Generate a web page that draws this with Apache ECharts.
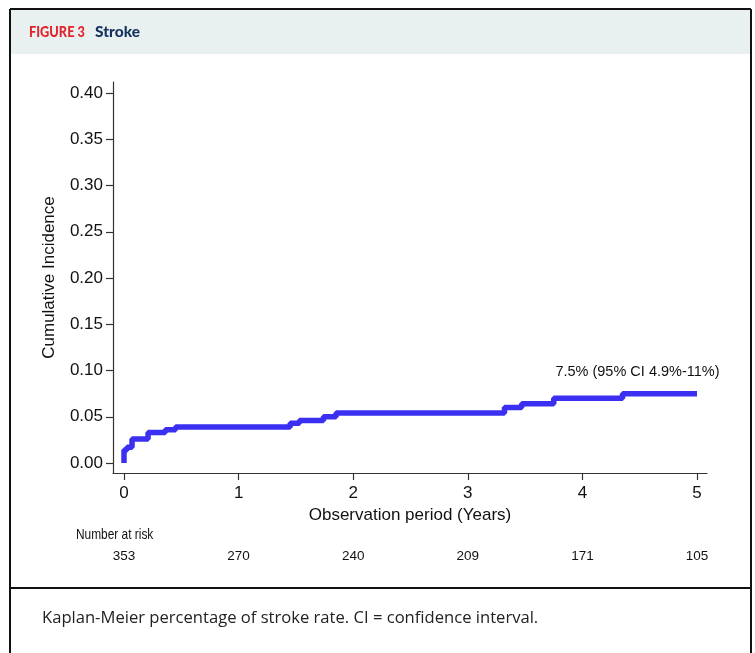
<!DOCTYPE html>
<html>
<head>
<meta charset="utf-8">
<script src="https://cdn.jsdelivr.net/npm/echarts@6/dist/echarts.min.js"></script>
<style>
  html, body { margin: 0; padding: 0; background: #fff; }
  #chart { width: 755px; height: 653px; }
</style>
</head>
<body>
<div id="chart"></div>
<script>
// Kaplan-Meier cumulative incidence (years, value after the step)
var years = [0, 0, 0.026, 0.07, 0.21, 0.36, 0.45, 1.45, 1.53, 1.74, 1.85, 3.32, 3.47, 3.75, 4.35, 5.0];
var incidence = [0, 0.014, 0.017, 0.026, 0.033, 0.036, 0.039, 0.043, 0.046, 0.050, 0.054, 0.060, 0.064, 0.070, 0.075, 0.075];

var yTicks = [0, 0.05, 0.10, 0.15, 0.20, 0.25, 0.30, 0.35, 0.40];
var xTicks = [0, 1, 2, 3, 4, 5];
var atRisk = [353, 270, 240, 209, 171, 105];
var endLabel = "7.5% (95% CI 4.9%-11%)";

var stepData = years.map(function (t, i) { return [t, incidence[i]]; });

var chart = echarts.init(document.getElementById("chart"));
var font = "Liberation Sans, Arial, sans-serif";

var option = {
  animation: false,
  backgroundColor: "#fff",
  grid: { left: 113, right: 48, top: 82, bottom: 180 },
  xAxis: [
    {
      type: "value",
      min: -0.096,
      max: 5.087,
      name: "Observation period (Years)",
      nameLocation: "middle",
      nameGap: 34,
      nameTextStyle: { fontFamily: font, fontSize: 17, color: "#111" },
      axisLine: { show: true, onZero: false, lineStyle: { color: "#333", width: 1.2 } },
      axisTick: { show: true, length: 7, customValues: xTicks, lineStyle: { color: "#333", width: 1.2 } },
      axisLabel: { customValues: xTicks, fontFamily: font, fontSize: 17, color: "#111", margin: 12 },
      splitLine: { show: false }
    },
    {
      type: "value",
      min: -0.096,
      max: 5.087,
      position: "bottom",
      offset: 68,
      axisLine: { show: false },
      axisTick: { show: false },
      axisLabel: {
        customValues: xTicks,
        fontFamily: font,
        fontSize: 13.5,
        color: "#111",
        formatter: function (v) { return atRisk[xTicks.indexOf(Math.round(v))]; }
      },
      splitLine: { show: false }
    }
  ],
  yAxis: {
    type: "value",
    min: -0.0108,
    max: 0.4119,
    name: "Cumulative Incidence",
    nameLocation: "middle",
    nameGap: 55,
    nameTextStyle: { fontFamily: font, fontSize: 17, color: "#111" },
    axisLine: { show: true, onZero: false, lineStyle: { color: "#333", width: 1.2 } },
    axisTick: { show: true, length: 7, customValues: yTicks, lineStyle: { color: "#333", width: 1.2 } },
    axisLabel: {
      customValues: yTicks,
      fontFamily: font,
      fontSize: 17,
      color: "#111",
      margin: 10,
      formatter: function (v) { return v.toFixed(2); }
    },
    splitLine: { show: false }
  },
  series: [
    {
      type: "line",
      step: "end",
      data: stepData,
      showSymbol: false,
      lineStyle: { color: "#3b30f2", width: 5.5 },
      markPoint: {
        symbol: "circle",
        symbolSize: 1,
        itemStyle: { color: "rgba(0,0,0,0)" },
        data: [{ coord: [5, 0.075], name: endLabel }],
        label: {
          show: true,
          position: "left",
          offset: [28, -22],
          fontFamily: font,
          fontSize: 14.5,
          color: "#111",
          formatter: function (p) { return p.name; }
        }
      }
    }
  ],
  graphic: [
    { type: "rect", shape: { x: 10, y: 9, width: 741, height: 45 }, style: { fill: "#e9f1f0" }, silent: true },
    { type: "line", shape: { x1: 10, y1: 9, x2: 751, y2: 9 }, style: { stroke: "#111", lineWidth: 2 } },
    { type: "line", shape: { x1: 10, y1: 9, x2: 10, y2: 653 }, style: { stroke: "#111", lineWidth: 2 } },
    { type: "line", shape: { x1: 751, y1: 9, x2: 751, y2: 653 }, style: { stroke: "#111", lineWidth: 2 } },
    { type: "line", shape: { x1: 10, y1: 588, x2: 751, y2: 588 }, style: { stroke: "#111", lineWidth: 2 } },
    {
      type: "text", x: 29, y: 25, scaleX: 0.88,
      style: { text: "FIGURE 3", font: "900 14.5px Lato, Open Sans, sans-serif", fill: "#e1252f" }
    },
    {
      type: "text", left: 95, top: 24,
      style: { text: "Stroke", font: "900 15.5px Lato, Open Sans, sans-serif", fill: "#16325f" }
    },
    {
      type: "text", x: 76, y: 527, scaleX: 0.82,
      style: { text: "Number at risk", font: "14.5px Liberation Sans, Arial, sans-serif", fill: "#111" }
    },
    {
      type: "text", left: 42, top: 610,
      style: { text: "Kaplan-Meier percentage of stroke rate. CI = confidence interval.", font: "16.6px Open Sans, Lato, sans-serif", fill: "#222" }
    }
  ]
};

chart.setOption(option);
</script>
</body>
</html>
